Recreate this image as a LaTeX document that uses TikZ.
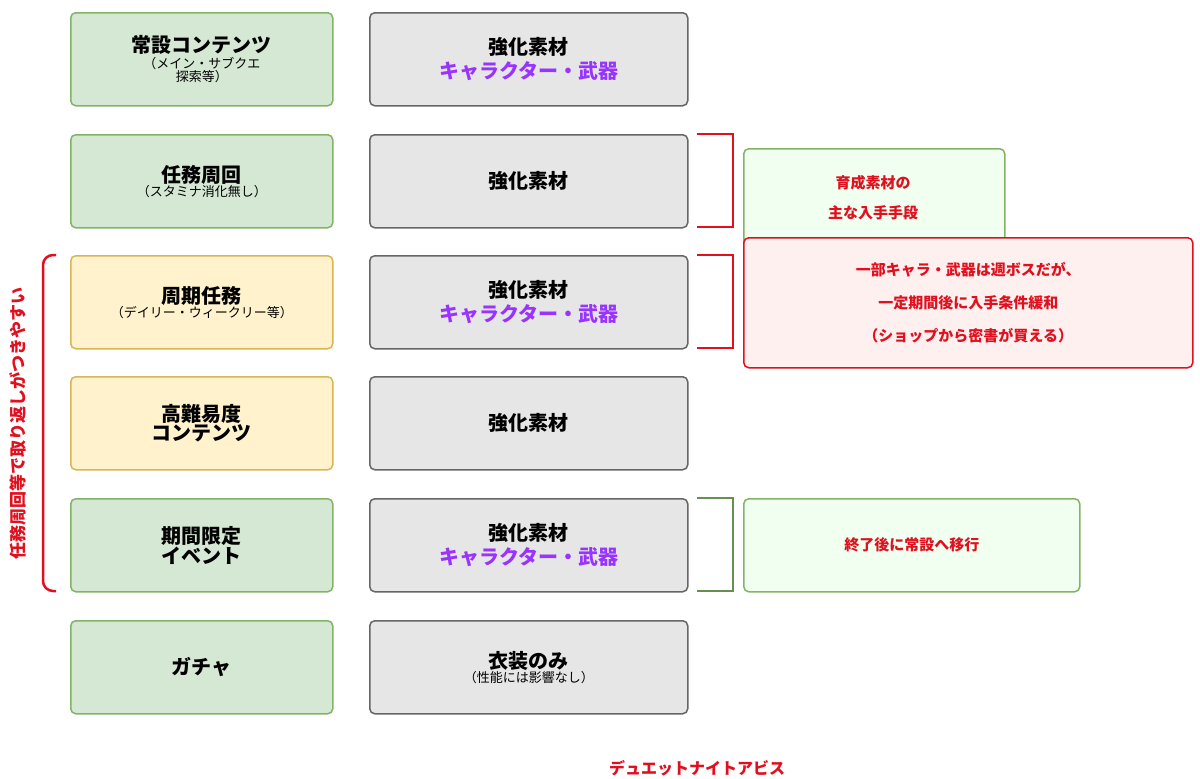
\documentclass[tikz,border=0pt]{standalone}
\usepackage{fontspec}
\setmainfont{Noto Sans CJK JP}
\newfontfamily\jpb{Noto Sans CJK JP Bold}
\usetikzlibrary{positioning}
\definecolor{gfill}{HTML}{D5E8D4}\definecolor{gline}{HTML}{82B366}
\definecolor{yfill}{HTML}{FFF2CC}\definecolor{yline}{HTML}{D6B656}
\definecolor{kfill}{HTML}{E6E6E6}\definecolor{kline}{HTML}{666666}
\definecolor{purp}{HTML}{9933FF}\definecolor{redc}{HTML}{E0101E}
\definecolor{lgfill}{HTML}{F0FFF0}\definecolor{rfill}{HTML}{FFF0F0}
\newcommand{\ttl}[1]{{\fontsize{20}{26}\selectfont\bfseries #1}}
\newcommand{\sub}[1]{{\fontsize{13}{18}\selectfont #1}}
\begin{document}
\begin{tikzpicture}[x=1pt,y=-1pt,
 box/.style={draw,line width=1.5pt,rounded corners=5pt,align=center,anchor=north west,inner sep=0pt},
 lbox/.style={box,minimum width=262pt,minimum height=93pt},
 mbox/.style={box,minimum width=318pt,minimum height=93pt,fill=kfill,draw=kline},
 gb/.style={lbox,fill=gfill,draw=gline}, yb/.style={lbox,fill=yfill,draw=yline},
 rt/.style={text=redc,font=\fontsize{15}{30}\selectfont\bfseries}]
\useasboundingbox (0,0) rectangle (1200,779);
\node[gb] (l1) at (70,12) {\ttl{常設コンテンツ}\\[2pt]\sub{（メイン・サブクエ}\\\sub{探索等）}};
\node[gb] (l2) at (70,134) {\ttl{任務周回}\\\sub{（スタミナ消化無し）}};
\node[yb] (l3) at (70,255) {\ttl{周期任務}\\\sub{（デイリー・ウィークリー等）}};
\node[yb] (l4) at (70,376) {\ttl{高難易度}\\\ttl{コンテンツ}};
\node[gb] (l5) at (70,498) {\ttl{期間限定}\\\ttl{イベント}};
\node[gb] (l6) at (70,620) {\ttl{ガチャ}};
\def\kc{\ttl{\textcolor{purp}{キャラクター・武器}}}
\node[mbox] (m1) at (369,12) {\ttl{強化素材}\\[4pt]\kc};
\node[mbox] (m2) at (369,134) {\ttl{強化素材}};
\node[mbox] (m3) at (369,255) {\ttl{強化素材}\\[4pt]\kc};
\node[mbox] (m4) at (369,376) {\ttl{強化素材}};
\node[mbox] (m5) at (369,498) {\ttl{強化素材}\\[4pt]\kc};
\node[mbox] (m6) at (369,620) {\ttl{衣装のみ}\\\sub{（性能には影響なし）}};
\draw[redc,line width=2.5pt] (697,134) -- (733,134) -- (733,227) -- (697,227);
\draw[redc,line width=2.5pt] (697,255) -- (733,255) -- (733,348) -- (697,348);
\draw[gline!80!black,line width=2.5pt] (697,498) -- (733,498) -- (733,591) -- (697,591);
\node[box,draw=gline,fill=lgfill,minimum width=261pt,minimum height=100pt] (g1) at (743,148) {};
\node[rt,align=center] at (873,198) {育成素材の\\主な入手手段};
\node[box,draw=redc,fill=rfill,minimum width=449pt,minimum height=130pt] (r1) at (743,237)
 {\parbox{440pt}{\centering\fontsize{15}{33}\selectfont\bfseries\color{redc}一部キャラ・武器は週ボスだが、\\一定期間後に入手条件緩和\\（ショップから密書が買える）}};
\node[box,draw=gline,fill=lgfill,minimum width=336pt,minimum height=93pt,rt] (g2) at (743,498) {終了後に常設へ移行};
\draw[redc,line width=2.5pt,rounded corners=10pt] (56,255) -- (43,255) -- (43,591) -- (56,591);
\node[rt,rotate=90,font=\fontsize{17}{20}\selectfont\bfseries] (vt) at (18,423) {任務周回等で取り返しがつきやすい};
\node[rt,font=\fontsize{16}{20}\selectfont\bfseries] (ft) at (697,768) {デュエットナイトアビス};
\end{tikzpicture}
\end{document}
